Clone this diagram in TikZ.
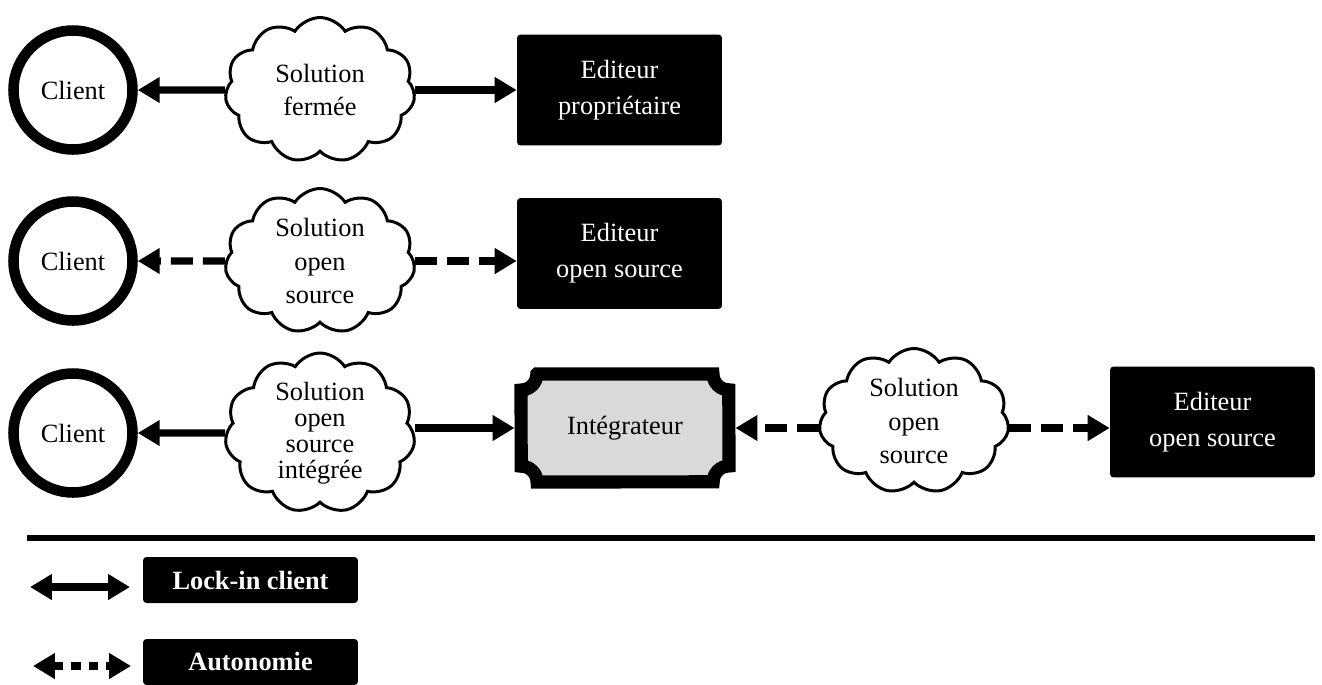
\documentclass[tikz,border=0pt]{standalone}
\usepackage{fontspec}
\setmainfont{Liberation Serif}
\usetikzlibrary{shapes.geometric, shapes.symbols, arrows.meta, positioning, calc, backgrounds}

\begin{document}
\begin{tikzpicture}[x=0.02cm, y=0.02cm,
    every node/.style={font=\fontsize{15}{14.7}\selectfont, align=center},
    clientnode/.style={circle, draw=black, line width=6pt, minimum size=2.38cm, inner sep=0pt},
    solcloud/.style={cloud, draw=black, line width=1.7pt, cloud puffs=11, cloud puff arc=115, aspect=1.25, minimum width=3.8cm, minimum height=2.9cm, inner sep=-3pt, font=\fontsize{15}{19}\selectfont},
    editblock/.style={rectangle, fill=black, text=white, rounded corners=2pt, minimum width=4.1cm, minimum height=2.22cm, font=\fontsize{15}{20.5}\selectfont},
    legendblock/.style={rectangle, fill=black, text=white, rounded corners=2pt, minimum width=4.3cm, minimum height=0.92cm, font=\fontsize{15}{15}\selectfont\bfseries},
    integblock/.style={rectangle, minimum width=4.16cm, minimum height=2.16cm, outer sep=0pt},
    plaque/.style={draw=black, fill=gray!30, line width=7.5pt},
    >={Triangle[width=14pt,length=12.5pt]},
    lockin/.style={draw=black, line width=4pt},
    autonomy/.style={draw=black, line width=4pt, dash pattern=on 12.5pt off 5.7pt}]

    \useasboundingbox (0,0) rectangle (1322,-684);

    % solution fermee
    \node [clientnode] (client1) at (73,-90) {Client};
    \node [solcloud] (sol1) at (320,-90) {Solution\\fermée};
    \node [editblock] (edit1) at (619.5,-90) {Editeur\\propriétaire};

    % solution open source
    \node [clientnode] (client2) at (73,-261) {Client};
    \node [solcloud] (sol2) at (320,-261) {Solution\\open\\source};
    \node [editblock] (edit2) at (619.5,-253.5) {Editeur\\open source};

    % solution integree
    \node [clientnode] (client3) at (73,-433) {Client};
    \node [solcloud, aspect=1.1, minimum height=3.2cm, font=\fontsize{15}{14.7}\selectfont] (sol3) at (320,-433) {Solution\\open\\source\\intégrée};
    \node [integblock] (integ) at (625,-428) {Intégrateur};
    \node [solcloud] (sol4) at (914,-421) {Solution\\open\\source};
    \node [editblock] (edit3) at (1212.5,-422) {Editeur\\open source};

    \begin{scope}[on background layer]
    \draw [plaque] ($(integ.north west)+(16,0)$) -- ($(integ.north east)+(-16,0)$)
        arc[start angle=180, end angle=270, radius=9pt]
        -- ($(integ.south east)+(0,16)$)
        arc[start angle=90, end angle=180, radius=9pt]
        -- ($(integ.south west)+(16,0)$)
        arc[start angle=0, end angle=90, radius=9pt]
        -- ($(integ.north west)+(0,-16)$)
        arc[start angle=270, end angle=360, radius=9pt] -- cycle;
    \end{scope}

    \draw [lockin, ->] (sol1.west) -- (client1);
    \draw [lockin, ->] (sol1.east) -- (sol1.east -| edit1.west);
    \draw [autonomy, ->] (sol2.west) -- (client2);
    \draw [autonomy, ->] (sol2.east) -- (sol2.east -| edit2.west);
    \draw [lockin, ->] (sol3.west) -- (client3);
    \draw [lockin, ->, shorten >=3.7pt] (sol3.east |- integ) -- (integ.west);
    \draw [autonomy, ->, shorten >=3.7pt] (sol4.west |- integ) -- (integ.east);
    \draw [autonomy, ->] (sol4.east |- integ) -- (edit3.west |- integ);

    % legende
    \coordinate (sepL) at (27,-538);
    \coordinate (sepR) at (1315,-538);
    \draw [line width=3.2pt] (sepL) -- (sepR);

    \node [legendblock] (lock) at (250.5,-580) {Lock-in client};
    \node [legendblock] (auto) at (250.5,-662) {Autonomie};
    \coordinate (lockL) at (30,-587);
    \coordinate (lockR) at (130,-587);
    \coordinate (autoL) at (33,-666);
    \coordinate (autoR) at (131,-666);
    \draw [lockin, <->] (lockL) -- (lockR);
    \draw [autonomy, <->, dash pattern=on 5.5pt off 4.5pt] (autoL) -- (autoR);

\end{tikzpicture}
\end{document}
